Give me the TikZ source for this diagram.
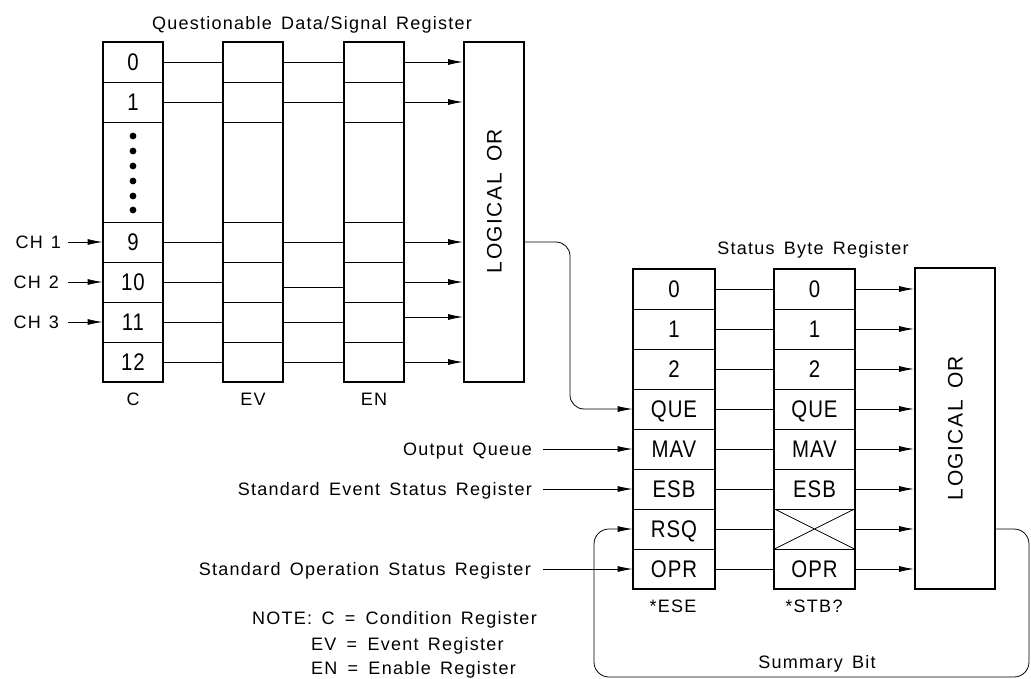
\documentclass[tikz,border=0pt]{standalone}
\usepackage{fontspec}
\setmainfont{Liberation Sans}
\newfontfamily\cadfont[LetterSpace=7]{Liberation Sans}
\newfontfamily\regfont[LetterSpace=4,FakeStretch=0.85]{Liberation Sans}
\usetikzlibrary{arrows.meta,fit}
\begin{document}
\begin{tikzpicture}[x=1pt,y=-1pt,
  conn/.style={line width=0.8pt},
  arr/.style={conn,-{Latex[length=15pt,width=6pt]}},
  cell/.style={draw,line width=0.8pt,minimum width=60pt,minimum height=40pt,inner sep=0pt,
    text height=17pt,text depth=0pt,font=\regfont\fontsize{24}{26}\selectfont},
  frame/.style={draw,line width=2pt,inner sep=0pt},
  orbox/.style={draw,line width=2pt,inner sep=0pt,minimum width=60pt},
  lbl/.style={font=\cadfont\fontsize{18}{20}\selectfont,inner sep=0pt,text height=12.9pt,text depth=0pt},
  ortext/.style={font=\cadfont\fontsize{21}{23}\selectfont,inner sep=0pt,rotate=90,text height=15pt,text depth=0pt},
]
\useasboundingbox (0,0) rectangle (1031,679);

% ---------- Questionable Data/Signal Register ----------
\node[lbl] (qtitle) at (312,23) {Questionable\hspace{3pt} Data/Signal\hspace{3pt} Register};

\foreach \col/\x in {c/133,v/253,n/374}{
  \node[cell] (\col0) at (\x,62) {};
  \node[cell] (\col1) at (\x,102) {};
  \node[cell,minimum height=100pt] (\col d) at (\x,172) {};
  \node[cell] (\col9) at (\x,242) {};
  \node[cell] (\col10) at (\x,282) {};
  \node[cell] (\col11) at (\x,322) {};
  \node[cell] (\col12) at (\x,362) {};
  \node[frame,fit=(\col0)(\col12)] (\col F) {};
}
\node[cell,draw=none] (c0t) at (c0) {0};
\node[cell,draw=none] (c1t) at (c1) {1};
\node[cell,draw=none] (c9t) at (c9) {9};
\node[cell,draw=none] (c10t) at (c10) {10};
\node[cell,draw=none] (c11t) at (c11) {11};
\node[cell,draw=none] (c12t) at (c12) {12};
\foreach \yy in {136,151,166,181,196,210}{\fill (133,\yy) circle (3.4pt);}

\node[orbox,minimum height=340pt] (or1) at (494,212) {};
\node[ortext] (or1t) at (494,201) {LOGICAL\hspace{4pt} OR};

\node[lbl] (lC) at (133,399) {C};
\node[lbl] (lEV) at (253,399) {EV};
\node[lbl] (lEN) at (374,399) {EN};

% connectors
\foreach \r in {0,1,9,12}{
  \draw[conn] (c\r.east) -- (v\r.west);
  \draw[conn] (v\r.east) -- (n\r.west);
  \draw[arr] (n\r.east) -- (n\r.east -| or1.west);
}
\draw[conn] (c10.east) -- (v10.west);
\draw[conn] ([yshift=-5pt]v10.east) -- ([yshift=-5pt]n10.west);
\draw[arr] (n10.east) -- (n10.east -| or1.west);
\draw[conn] (c11.east) -- (v11.west);
\draw[conn] (v11.east) -- (n11.west);
\coordinate (n11o) at ([yshift=5pt]n11.east);
\draw[arr] (n11o) -- (n11o -| or1.west);

% channel inputs
\node[lbl,anchor=east] (ch1) at (61,242) {CH\hspace{8pt}1};
\node[lbl,anchor=east] (ch2) at (59,282) {CH\hspace{8pt}2};
\node[lbl,anchor=east] (ch3) at (59,322) {CH\hspace{8pt}3};
\draw[arr] ([xshift=7pt]ch1.east) -- (c9.west);
\draw[arr] ([xshift=9pt]ch2.east) -- (c10.west);
\draw[arr] ([xshift=9pt]ch3.east) -- (c11.west);

% ---------- Status Byte Register ----------
\node[lbl] (stitle) at (813,248) {Status\hspace{3pt} Byte\hspace{3pt} Register};

\foreach \t [count=\i from 0] in {0,1,2,QUE,MAV,ESB,RSQ,OPR}{
  \node[cell,minimum width=82pt] (s\i) at (674,289+40*\i) {\t};
  \node[cell,minimum width=81pt] (t\i) at (814.5,289+40*\i) {\ifnum\i=6\else\t\fi};
}
\node[frame,fit=(s0)(s7)] (sF) {};
\node[frame,fit=(t0)(t7)] (tF) {};
\draw[conn] (t6.north west) -- (t6.south east) (t6.south west) -- (t6.north east);

\node[orbox,minimum width=80pt,minimum height=320pt] (or2) at (955,428.5) {};
\node[ortext] (or2t) at (955,428) {LOGICAL\hspace{4pt} OR};

\foreach \i in {0,...,7}{
  \draw[conn] (s\i.east) -- (t\i.west);
  \draw[arr] (t\i.east) -- (t\i.east -| or2.west);
}

\node[lbl] (lESE) at (673,606) {*ESE};
\node[lbl] (lSTB) at (814,606) {*STB?};

% inputs to status byte
\node[lbl,anchor=east] (oq) at (532,449) {Output\hspace{3pt} Queue};
\node[lbl,anchor=east] (ses) at (532,489) {Standard\hspace{3pt} Event\hspace{3pt} Status\hspace{3pt} Register};
\node[lbl,anchor=east] (sos) at (531,569) {Standard\hspace{3pt} Operation\hspace{3pt} Status\hspace{3pt} Register};
\draw[arr] ([xshift=11pt]oq.east) -- (s4.west);
\draw[arr] ([xshift=11pt]ses.east) -- (s5.west);
\draw[arr] ([xshift=12pt]sos.east) -- (s7.west);

% logical OR 1 -> QUE
\coordinate (qb) at (570,409);
\draw[arr,rounded corners=14pt] (c9.east -| or1.east) -| (qb) -- (s3.west);

% summary bit loop
\coordinate (sbR) at (1029,677);
\coordinate (sbL) at (594,529);
\draw[arr,rounded corners=15pt] (t6.east -| or2.east) -| (sbR) -| (sbL) -- (s6.west);
\node[lbl] (sumbit) at (817,662) {Summary\hspace{3pt} Bit};

% note
\node[lbl,anchor=west] (note1) at (252,618) {NOTE:\hspace{3pt} C\hspace{4pt} =\hspace{4pt} Condition\hspace{3pt} Register};
\node[lbl,anchor=west] (note2) at (311,644) {EV\hspace{4pt} =\hspace{4pt} Event\hspace{3pt} Register};
\node[lbl,anchor=west] (note3) at (311,668) {EN\hspace{4pt} =\hspace{4pt} Enable\hspace{3pt} Register};
\end{tikzpicture}
\end{document}
